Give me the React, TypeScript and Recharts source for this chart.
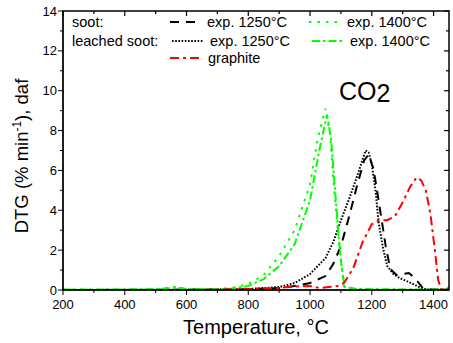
import React from "react";
import { LineChart, Line, XAxis, YAxis } from "recharts";

// soot, exp. 1250°C (black dashed)
const soot1250T = [200, 400, 600, 800, 900, 950, 1000, 1050, 1075, 1100, 1125, 1150, 1175, 1190, 1205, 1215, 1228, 1245, 1260, 1280, 1300, 1320, 1335, 1350, 1365, 1380, 1450];
const soot1250V = [0, 0, 0.02, 0.03, 0.1, 0.2, 0.35, 0.7, 1.3, 2.2, 3.6, 5.1, 6.5, 6.8, 6.1, 5.2, 3.9, 2.2, 1.05, 0.75, 0.8, 0.85, 0.65, 0.4, 0.1, 0.02, 0.02];

// soot, exp. 1400°C (green dotted)
const soot1400T = [200, 300, 400, 500, 560, 600, 700, 750, 800, 850, 900, 950, 1000, 1025, 1050, 1065, 1075, 1090, 1100, 1110, 1150, 1200, 1300, 1400, 1450];
const soot1400V = [0.02, 0.03, 0.02, 0.05, 0.15, 0.05, 0.05, 0.12, 0.3, 0.75, 1.7, 3.0, 5.3, 7.6, 9.1, 7.8, 5.6, 3.0, 1.5, 0.2, 0.05, 0.03, 0.03, 0.02, 0.02];

// leached soot, exp. 1250°C (black dotted)
const leached1250T = [200, 400, 600, 800, 900, 950, 1000, 1050, 1075, 1100, 1125, 1150, 1165, 1180, 1190, 1200, 1212, 1222, 1235, 1250, 1270, 1290, 1320, 1340, 1360, 1380, 1450];
const leached1250V = [0, 0.01, 0.02, 0.05, 0.15, 0.35, 0.8, 1.6, 2.4, 3.5, 4.5, 5.6, 6.3, 7.0, 6.9, 6.3, 5.0, 3.4, 2.2, 1.2, 0.8, 0.6, 0.4, 0.25, 0.1, 0.02, 0.02];

// leached soot, exp. 1400°C (green dash-dot)
const leached1400T = [200, 300, 400, 500, 570, 600, 700, 750, 800, 850, 900, 950, 1000, 1030, 1055, 1068, 1080, 1092, 1102, 1112, 1150, 1200, 1300, 1400, 1450];
const leached1400V = [0.02, 0.02, 0.03, 0.04, 0.12, 0.05, 0.04, 0.08, 0.2, 0.55, 1.2, 2.3, 4.5, 7.0, 8.8, 7.6, 5.2, 2.8, 1.2, 0.15, 0.05, 0.04, 0.03, 0.03, 0.02];

// graphite (red dash-dot)
const graphiteT = [200, 600, 700, 800, 900, 950, 1000, 1030, 1060, 1090, 1110, 1140, 1170, 1200, 1225, 1250, 1275, 1300, 1325, 1345, 1360, 1375, 1390, 1405, 1415, 1425, 1450];
const graphiteV = [0, 0, 0.02, 0.05, 0.1, 0.18, 0.2, 0.1, 0.15, 0.2, 0.35, 1.1, 2.4, 3.3, 3.5, 3.5, 3.7, 4.4, 5.2, 5.65, 5.5, 5.0, 3.8, 1.9, 0.5, 0.02, 0.1];

const xTicks = [200, 300, 400, 500, 600, 700, 800, 900, 1000, 1100, 1200, 1300, 1400];
const yTicks = [0, 1, 2, 3, 4, 5, 6, 7, 8, 9, 10, 11, 12, 13, 14];

const toRows = (ts: number[], vs: number[]) => ts.map((t, i) => ({ t, v: vs[i] }));

const FONT = "Arial, 'Liberation Sans', sans-serif";
const GREEN = "#00ff00";

// plot box (matches chart margins + axis sizes below)
const PL = 63, PT = 11, PR = 449, PB = 290;
const X_DOMAIN = [200, 1450];
const Y_DOMAIN = [0, 14];
const sx = (t: number) => PL + ((t - X_DOMAIN[0]) / (X_DOMAIN[1] - X_DOMAIN[0])) * (PR - PL);
const sy = (v: number) => PB - ((v - Y_DOMAIN[0]) / (Y_DOMAIN[1] - Y_DOMAIN[0])) * (PB - PT);

const series = [
  { name: "soot1250", data: toRows(soot1250T, soot1250V), color: "#000", dash: "9 7" },
  { name: "leached1250", data: toRows(leached1250T, leached1250V), color: "#000", dash: "1.6 1.6" },
  { name: "soot1400", data: toRows(soot1400T, soot1400V), color: GREEN, dash: "2.5 6" },
  { name: "leached1400", data: toRows(leached1400T, leached1400V), color: GREEN, dash: "8 3 2.5 3" },
  { name: "graphite", data: toRows(graphiteT, graphiteV), color: "#ff0000", dash: "9 4 3 4" },
];

const BottomTick = (props: any) => {
  const { x, y, payload } = props;
  const major = payload.value % 200 === 0;
  return (
    <g>
      <line x1={x} y1={y} x2={x} y2={y + (major ? 5 : 3)} stroke="#000" />
      {major && (
        <text x={x} y={y + 19} textAnchor="middle" fontSize={13} fontFamily={FONT} fill="#000">
          {payload.value}
        </text>
      )}
    </g>
  );
};

const LeftTick = (props: any) => {
  const { x, y, payload } = props;
  const major = payload.value % 2 === 0;
  return (
    <g>
      <line x1={x} y1={y} x2={x - (major ? 5 : 3)} y2={y} stroke="#000" />
      {major && (
        <text x={x - 6} y={y + 4.5} textAnchor="end" fontSize={13} fontFamily={FONT} fill="#000">
          {payload.value}
        </text>
      )}
    </g>
  );
};

const LegendLine = ({ x, y, color, dash }: { x: number; y: number; color: string; dash: string }) => (
  <line x1={x} y1={y} x2={x + 32} y2={y} stroke={color} strokeWidth={2} strokeDasharray={dash} />
);

export default function App() {
  const txt = { fontFamily: FONT, fontSize: 14.5, fill: "#000" };
  return (
    <div style={{ position: "absolute", left: 0, top: 0, width: 453, height: 343, background: "#fff" }}>
      <LineChart width={453} height={343} margin={{ top: PT, right: 453 - PR, bottom: 343 - PB - 30, left: 8 }}>
        <XAxis
          type="number"
          dataKey="t"
          domain={X_DOMAIN}
          ticks={xTicks}
          interval={0}
          height={30}
          tickSize={0}
          tickMargin={0}
          tick={<BottomTick />}
          axisLine={{ stroke: "#000" }}
          allowDataOverflow
        />
        <YAxis
          type="number"
          domain={Y_DOMAIN}
          ticks={yTicks}
          interval={0}
          width={PL - 8}
          tickSize={0}
          tickMargin={0}
          tick={<LeftTick />}
          axisLine={{ stroke: "#000" }}
          allowDataOverflow
        />
        {series.map((s) => (
          <Line
            key={s.name}
            data={s.data}
            dataKey="v"
            type="linear"
            stroke={s.color}
            strokeWidth={2}
            strokeDasharray={s.dash}
            dot={false}
            activeDot={false}
            isAnimationActive={false}
          />
        ))}
      </LineChart>
      <svg width={453} height={343} style={{ position: "absolute", left: 0, top: 0, pointerEvents: "none" }}>
        <rect x={PL} y={PT} width={PR - PL} height={PB - PT} fill="none" stroke="#000" strokeWidth={1.5} />
        {xTicks.map((t) => (
          <line key={"tx" + t} x1={sx(t)} y1={PT} x2={sx(t)} y2={PT + (t % 200 === 0 ? 5 : 3)} stroke="#000" strokeWidth={1.2} />
        ))}
        {yTicks.map((v) => (
          <line key={"ry" + v} x1={PR} y1={sy(v)} x2={PR - (v % 2 === 0 ? 5 : 3)} y2={sy(v)} stroke="#000" strokeWidth={1.2} />
        ))}

        <text x={72} y={27} {...txt}>soot:</text>
        <LegendLine x={170} y={22} color="#000" dash="9 7" />
        <text x={207} y={27} {...txt}>exp. 1250°C</text>
        <LegendLine x={309} y={22} color={GREEN} dash="2.5 6" />
        <text x={347} y={27} {...txt}>exp. 1400°C</text>

        <text x={72} y={46} {...txt}>leached soot:</text>
        <LegendLine x={172} y={41} color="#000" dash="1.6 1.6" />
        <text x={210} y={46} {...txt}>exp. 1250°C</text>
        <LegendLine x={312} y={41} color={GREEN} dash="8 3 2.5 3" />
        <text x={350} y={46} {...txt}>exp. 1400°C</text>

        <LegendLine x={170} y={58} color="#ff0000" dash="9 4 3 4" />
        <text x={208} y={63} {...txt}>graphite</text>

        <text x={339} y={100} fontFamily={FONT} fontSize={25} fill="#000">
          CO<tspan dy={2}>2</tspan>
        </text>

        <text x={256} y={334} textAnchor="middle" fontFamily={FONT} fontSize={20} fill="#000">
          Temperature, °C
        </text>
        <text
          transform="translate(28,156) rotate(-90)"
          textAnchor="middle"
          fontFamily={FONT}
          fontSize={18.5}
          fill="#000"
        >
          DTG (% min<tspan fontSize={12} dy={-7}>-1</tspan>
          <tspan dy={7}>), daf</tspan>
        </text>
      </svg>
    </div>
  );
}
